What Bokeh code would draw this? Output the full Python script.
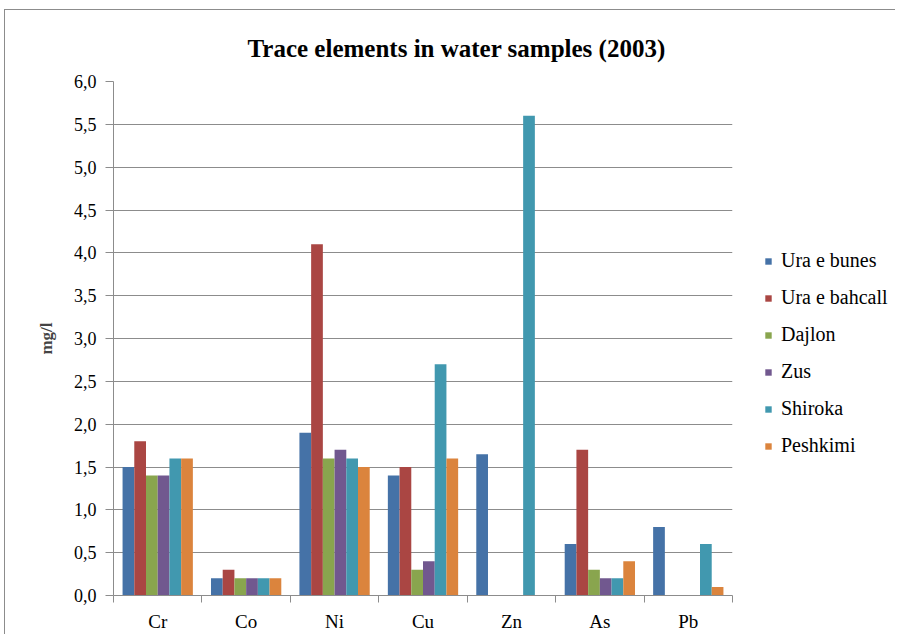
from bokeh.plotting import figure
from bokeh.layouts import row
from bokeh.models import ColumnDataSource, FixedTicker, Legend, LegendItem, Range1d
from bokeh.transform import dodge
from bokeh.embed import file_html
from bokeh.resources import INLINE

categories = ["Cr", "Co", "Ni", "Cu", "Zn", "As", "Pb"]
series_names = ["Ura e bunes", "Ura e bahcall", "Dajlon", "Zus", "Shiroka", "Peshkimi"]
ura_e_bunes = [1.5, 0.2, 1.9, 1.4, 1.65, 0.6, 0.8]
ura_e_bahcall = [1.8, 0.3, 4.1, 1.5, 0.0, 1.7, 0.0]
dajlon = [1.4, 0.2, 1.6, 0.3, 0.0, 0.3, 0.0]
zus = [1.4, 0.2, 1.7, 0.4, 0.0, 0.2, 0.0]
shiroka = [1.6, 0.2, 1.6, 2.7, 5.6, 0.2, 0.6]
peshkimi = [1.6, 0.2, 1.5, 1.6, 0.0, 0.4, 0.1]
y_ticks = [0.0, 0.5, 1.0, 1.5, 2.0, 2.5, 3.0, 3.5, 4.0, 4.5, 5.0, 5.5, 6.0]
y_tick_labels = ["0,0", "0,5", "1,0", "1,5", "2,0", "2,5", "3,0", "3,5", "4,0", "4,5", "5,0", "5,5", "6,0"]
colors = ["#4572A7", "#AA4643", "#89A54E", "#71588F", "#4198AF", "#DB843D"]

series_values = [ura_e_bunes, ura_e_bahcall, dajlon, zus, shiroka, peshkimi]
keys = ["s%d" % i for i in range(len(series_names))]

data = {"x": [i + 0.5 for i in range(len(categories))]}
for k, vals in zip(keys, series_values):
    data[k] = vals
source = ColumnDataSource(data)

FONT = "Liberation Serif"
GRID = "#8c8c8c"
H = 624

p = figure(width=728, height=H, x_range=Range1d(0, len(categories)), y_range=Range1d(0, 6),
           output_backend="svg", toolbar_location=None,
           min_border_left=108, min_border_right=1, min_border_top=71, min_border_bottom=34)

p.title.text = "Trace elements in water samples (2003)"
p.title.text_font = FONT
p.title.text_font_style = "bold"
p.title.text_font_size = "25px"
p.title.align = "left"
p.title.offset = 134
p.title.standoff = 39
p.title.text_color = "#000000"

bar_w = 0.1325
for i, (k, c) in enumerate(zip(keys, colors)):
    off = (i - 2.5) * bar_w
    p.vbar(x=dodge("x", off, range=p.x_range), top=k, width=bar_w, source=source,
           fill_color=c, line_color=None)

p.outline_line_color = None
p.background_fill_color = "white"
p.border_fill_color = "white"

# y axis
p.yaxis.ticker = FixedTicker(ticks=y_ticks)
p.yaxis.major_label_overrides = {t: l for t, l in zip(y_ticks, y_tick_labels)}
p.yaxis.major_label_text_font = FONT
p.yaxis.major_label_text_font_size = "18px"
p.yaxis.major_label_text_color = "#000000"
p.yaxis.major_tick_in = 0
p.yaxis.major_tick_out = 8
p.yaxis.major_tick_line_color = GRID
p.yaxis.minor_tick_line_color = None
p.yaxis.axis_line_color = GRID
p.yaxis.axis_label = "mg/l"
p.yaxis.axis_label_text_font = FONT
p.yaxis.axis_label_text_font_style = "bold"
p.yaxis.axis_label_text_font_size = "17px"
p.yaxis.axis_label_standoff = 15
p.yaxis.major_label_standoff = 9

# x axis
centers = [i + 0.5 for i in range(len(categories))]
bounds = list(range(len(categories) + 1))
p.xaxis.ticker = FixedTicker(ticks=centers, minor_ticks=bounds)
p.xaxis.major_label_overrides = {c: n for c, n in zip(centers, categories)}
p.xaxis.major_label_text_font = FONT
p.xaxis.major_label_text_font_size = "19px"
p.xaxis.major_label_text_color = "#000000"
p.xaxis.major_tick_line_color = None
p.xaxis.minor_tick_in = 0
p.xaxis.minor_tick_out = 7
p.xaxis.minor_tick_line_color = GRID
p.xaxis.axis_line_color = GRID
p.xaxis.major_label_standoff = 8

p.xgrid.grid_line_color = None
p.ygrid.ticker = FixedTicker(ticks=y_ticks)
p.ygrid.grid_line_color = GRID
p.ygrid.grid_line_width = 1

# legend panel: a side figure whose bars (same data) lie outside its visible range,
# so only the legend swatches and labels show
lf = figure(width=162, height=H, x_range=Range1d(-3, -2), y_range=Range1d(0, 1),
            x_axis_type=None, y_axis_type=None, output_backend="svg", toolbar_location=None,
            min_border=0)
lf.outline_line_color = None
lf.grid.visible = False
items = []
for k, name, c in zip(keys, series_names, colors):
    r = lf.vbar(x="x", top=k, width=bar_w, source=source, fill_color=c, line_color=None)
    items.append(LegendItem(label=name, renderers=[r]))
legend = Legend(items=items, location=(31, 138), border_line_color=None,
                background_fill_alpha=0, padding=0, margin=0,
                glyph_width=8, glyph_height=8, label_height=20, spacing=14,
                label_standoff=9, label_text_font=FONT, label_text_font_size="20px",
                label_text_color="#000000")
lf.add_layout(legend)

layout = row(p, lf)
layout.styles = {"border-left": "1px solid #8c8c8c", "border-top": "1px solid #8c8c8c",
                 "margin-left": "4px", "margin-top": "9px"}

open("out.html", "w").write(file_html(layout, INLINE))
